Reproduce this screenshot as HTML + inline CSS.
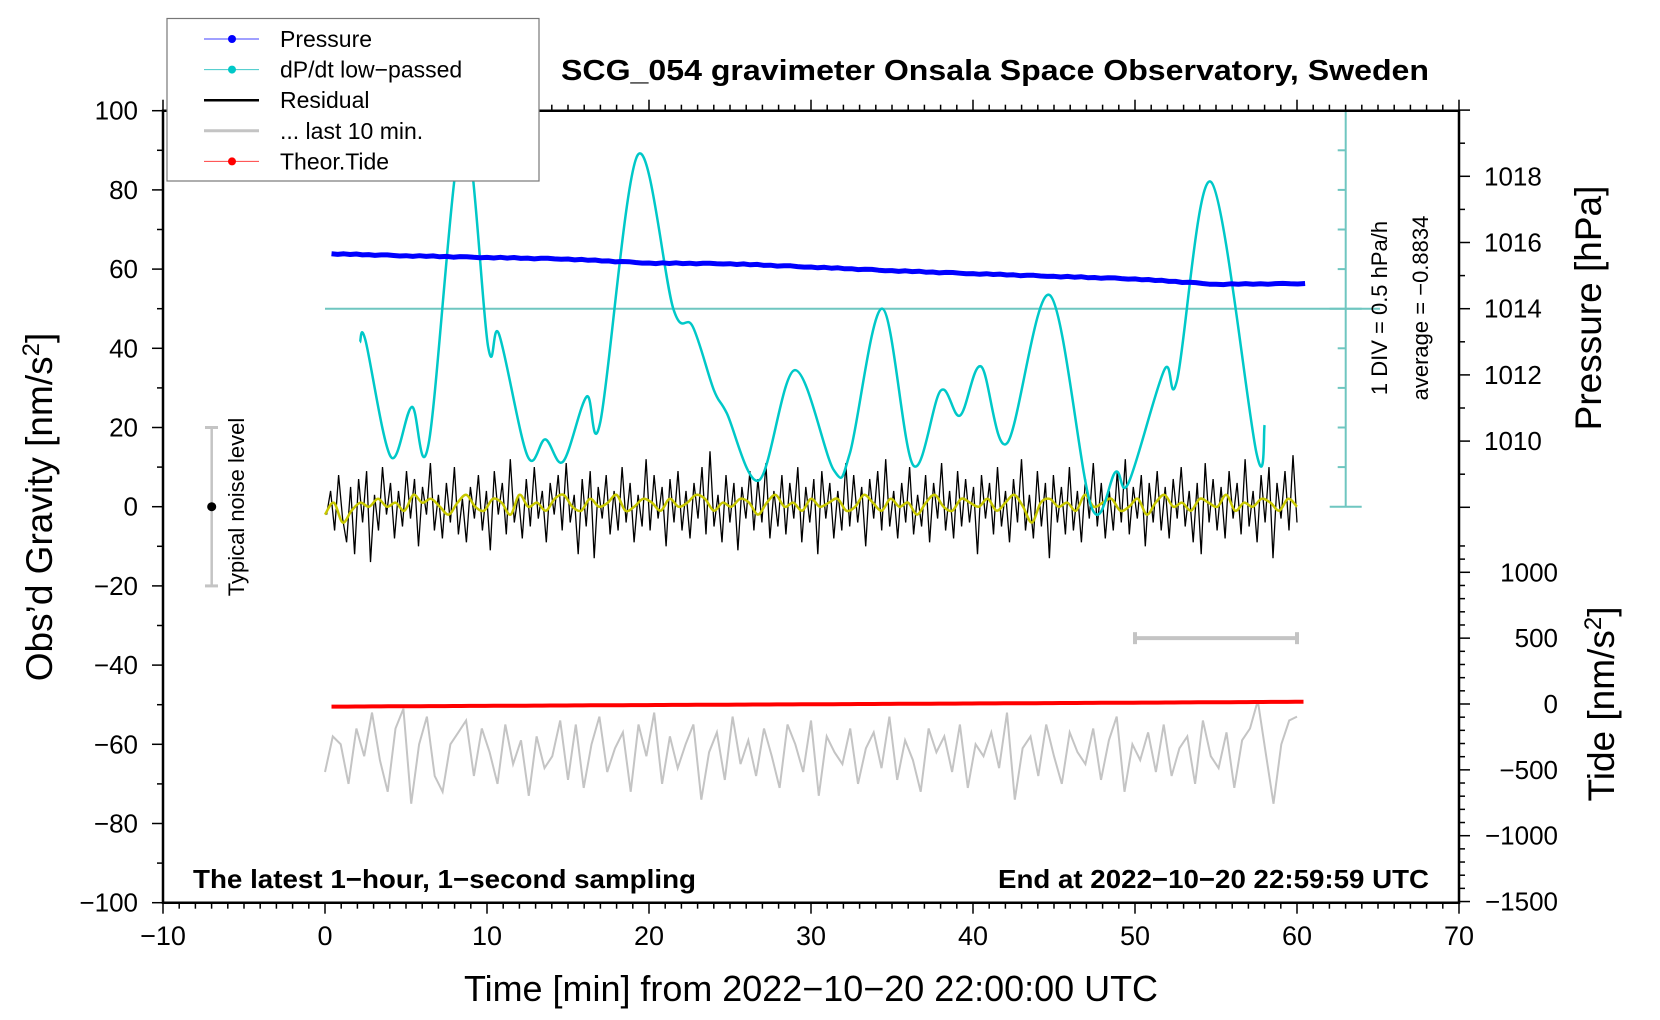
<!DOCTYPE html>
<html><head><meta charset="utf-8"><title>SCG_054 gravimeter</title>
<style>html,body{margin:0;padding:0;background:#fff}svg{display:block}text{font-family:"Liberation Sans",sans-serif}</style>
</head><body>
<svg id="chart" width="1660" height="1020" viewBox="0 0 1660 1020" xmlns="http://www.w3.org/2000/svg"></svg>
<script>
// ---- data ----
const xTicks=[-10,0,10,20,30,40,50,60,70];
const yTicks=[100,80,60,40,20,0,-20,-40,-60,-80,-100];
const pTicks=[1018,1016,1014,1012,1010];
const tideTicks=[1000,500,0,-500,-1000,-1500];
const pressTime=[0.4,5,10,15,20,25,30,35,40,45,50,55,60.5];
const pressVal=[1015.66,1015.6,1015.55,1015.5,1015.38,1015.36,1015.26,1015.15,1015.06,1014.98,1014.9,1014.74,1014.76];
const dpdtTime=[2.16,2.5,4.06,5.36,6.4,8.5,10.07,10.75,12.5,13.6,14.7,16.15,17.0,19.3,21.5,22.7,24.0,24.8,26.8,29.0,31.4,32.4,34.4,36.3,38.0,39.2,40.5,42.1,44.75,47.3,48.8,49.6,51.8,52.6,54.7,57.5,58.0];
const dpdtVal=[41.5,42,12.6,25.2,16,95,40.4,43.5,12.8,17,11.4,27.8,21.5,88.8,50,45.5,29.5,23.6,6.7,34.5,9.3,13.5,50,10.5,29.3,23,35.4,16,53.4,0,8.8,6,34.5,32,82,13.5,20.6];
const residVal=[-2,4,-6,8,-3,-9,5,-12,7,-4,9,-14,3,-6,10,-2,6,-8,4,-5,9,-3,7,-10,5,-2,11,-6,3,-8,6,-4,10,-7,2,-9,5,-3,8,-6,4,-11,9,-2,6,-7,12,-4,3,-8,7,-5,10,-3,4,-9,6,-2,8,-6,11,-4,3,-12,7,-5,9,-13,5,-3,8,-7,4,-6,10,-4,6,-9,3,-5,12,-6,8,-3,5,-10,7,-4,9,-6,4,-8,6,-3,10,-7,14,-5,3,-9,8,-4,6,-11,5,-3,9,-6,7,-4,11,-8,4,-5,8,-7,6,-3,10,-9,5,-4,7,-12,9,-3,6,-8,4,-6,11,-5,8,-4,5,-10,7,-3,9,-6,12,-5,4,-8,6,-4,10,-7,3,-5,8,-9,6,-3,11,-6,4,-8,9,-5,7,-4,5,-12,8,-3,6,-7,10,-5,4,-9,7,-4,12,-6,3,-8,9,-5,6,-13,8,-4,5,-7,10,-6,4,-9,7,-3,11,-5,6,-8,4,-6,9,-4,12,-7,5,-3,8,-10,6,-4,9,-6,5,-8,7,-3,10,-5,4,-9,6,-12,11,-4,7,-6,5,-8,9,-3,6,-7,12,-5,4,-9,8,-4,10,-13,6,-3,9,-6,13,-4];
const smoothVal=[-2,1,-4,-1,1,0,2,0,1,-1,3,1,2,0,-2,1,3,0,-1,2,1,-2,3,0,1,-1,2,3,0,-1,2,0,1,3,-1,0,2,1,-1,2,0,1,3,2,-1,1,0,2,1,-2,1,3,0,1,-1,2,0,1,2,-1,0,3,1,-1,2,0,1,-2,1,3,0,-1,2,1,0,2,-1,1,3,0,-4,1,2,0,1,-1,3,0,1,2,-1,0,2,-2,1,3,0,1,-1,2,1,0,3,-1,1,0,2,1,-1,2,0];
const lastVal=[-67,-58,-60,-70,-56,-63,-52,-64,-72,-56,-51,-75,-60,-53,-68,-72,-60,-57,-54,-68,-56,-62,-70,-55,-65,-59,-73,-58,-66,-63,-54,-69,-55,-71,-60,-53,-67,-61,-57,-72,-55,-63,-52,-70,-58,-66,-60,-55,-74,-62,-57,-69,-53,-65,-59,-68,-56,-63,-71,-55,-60,-67,-54,-73,-58,-62,-65,-56,-70,-61,-57,-66,-53,-69,-59,-64,-72,-56,-62,-58,-67,-55,-71,-60,-63,-57,-66,-52,-74,-61,-58,-68,-55,-63,-70,-57,-62,-65,-56,-69,-59,-53,-72,-60,-64,-57,-67,-55,-68,-61,-58,-70,-54,-63,-66,-57,-71,-59,-56,-49,-62,-75,-60,-54,-53];
const tideTime=[0.4,10,20,30,40,50,60.5];
const tideVal=[-20,-14,-8,-2,4,10,17];

// ---- scales ----
const X=t=>325+t*16.2;
const Y=g=>506.7-g*3.96;
const P=h=>308.7-(h-1014)*33.1;
const T=n=>704-n*0.1317;
const svg=document.getElementById('chart');
const NS='http://www.w3.org/2000/svg';
function mk(tag,attrs,parent){const e=document.createElementNS(NS,tag);for(const k in attrs)e.setAttribute(k,attrs[k]);(parent||svg).appendChild(e);return e;}
function txt(s,attrs,parent){const e=mk('text',attrs,parent);e.textContent=s;return e;}
function pathFrom(xs,ys){return xs.map((x,i)=>(i?'L':'M')+x.toFixed(1)+' '+ys[i].toFixed(1)).join(' ');}
function spline(xs,ys){let d='M'+xs[0]+' '+ys[0];for(let i=0;i<xs.length-1;i++){const x0=xs[Math.max(0,i-1)],y0=ys[Math.max(0,i-1)],x1=xs[i],y1=ys[i],x2=xs[i+1],y2=ys[i+1],x3=xs[Math.min(xs.length-1,i+2)],y3=ys[Math.min(xs.length-1,i+2)];d+=` C${(x1+(x2-x0)/6).toFixed(1)} ${(y1+(y2-y0)/6).toFixed(1)} ${(x2-(x3-x1)/6).toFixed(1)} ${(y2-(y3-y1)/6).toFixed(1)} ${x2.toFixed(1)} ${y2.toFixed(1)}`;}return d;}
function interp(ts,vs,t){for(let i=0;i<ts.length-1;i++){if(t<=ts[i+1]){const f=(t-ts[i])/(ts[i+1]-ts[i]);return vs[i]+f*(vs[i+1]-vs[i]);}}return vs[vs.length-1];}

const L=X(-10),R=X(70),TOP=Y(100),BOT=Y(-100);

let xs=lastVal.map((v,i)=>X(i*60/(lastVal.length-1))),ys=lastVal.map(v=>Y(v));
let e=mk('path',{d:pathFrom(xs,ys),fill:'none',stroke:'#c4c4c4','stroke-width':2});


const tt=[];for(let t=0.4;t<=60.5;t+=0.5)tt.push(t);
e=mk('path',{d:pathFrom(tt.map(X),tt.map(t=>T(interp(tideTime,tideVal,t)))),fill:'none',stroke:'#ff0000','stroke-width':4});


e=mk('g',{stroke:'#c4c4c4','stroke-width':4});

mk('line',{x1:X(50),x2:X(60),y1:T(500),y2:T(500)},e);mk('line',{x1:X(50),x2:X(50),y1:T(500)-6,y2:T(500)+6},e);mk('line',{x1:X(60),x2:X(60),y1:T(500)-6,y2:T(500)+6},e);

xs=residVal.map((v,i)=>X(0.1+i*59.9/(residVal.length-1)));ys=residVal.map(v=>Y(v));
e=mk('path',{d:pathFrom(xs,ys),fill:'none',stroke:'#000','stroke-width':1.3});

xs=smoothVal.map((v,i)=>X(i*60/(smoothVal.length-1)));ys=smoothVal.map(v=>Y(v));
e=mk('path',{d:spline(xs,ys),fill:'none',stroke:'#c8c800','stroke-width':2.5});


e=mk('line',{x1:X(0),x2:1380,y1:P(1014),y2:P(1014),stroke:'#6fc6c0','stroke-width':2});

e=mk('g',{stroke:'#6fc6c0','stroke-width':2});

mk('line',{x1:1345.7,x2:1345.7,y1:TOP,y2:Y(0)},e);
for(let g=0;g<=100;g+=10){const big=(g===0||g===100||g===50);mk('line',{x1:1345.7-(big?16:8),x2:big?1345.7+16:1345.7,y1:Y(g),y2:Y(g)},e);}
e=mk('path',{d:spline(dpdtTime.map(X),dpdtVal.map(Y)),fill:'none',stroke:'#00c8c8','stroke-width':2.5});


const pt=[],pv=[];const jit=[0,-0.015,0.01,-0.008,0.012,-0.01,0.004,-0.015,0.006,0.01,-0.004,-0.012,0.006];
for(let i=0;i<pressTime.length-1;i++){for(let k=0;k<12;k++){const t=pressTime[i]+(pressTime[i+1]-pressTime[i])*k/12;pt.push(t);pv.push(interp(pressTime,pressVal,t)+jit[k]);}}
pt.push(pressTime[pressTime.length-1]);pv.push(pressVal[pressVal.length-1]);
e=mk('path',{d:pathFrom(pt.map(X),pv.map(P)),fill:'none',stroke:'#0000ff','stroke-width':5,'stroke-linejoin':'round'});


e=mk('path',{d:`M${L} ${TOP} H${R} V${BOT} H${L} Z`,fill:'none',stroke:'#000','stroke-width':2.5});


const ax=mk('g',{stroke:'#000','stroke-width':1.5});

for(let t=-10;t<=70;t++){const len=t%10===0?11:6;mk('line',{x1:X(t),x2:X(t),y1:BOT,y2:BOT+len},ax);mk('line',{x1:X(t),x2:X(t),y1:TOP,y2:TOP-len},ax);}
for(let g=-100;g<=100;g+=10){const len=g%20===0?11:6;mk('line',{x1:L,x2:L-len,y1:Y(g),y2:Y(g)},ax);}
for(let h=1008;h<=1020;h++){const len=h%2===0?11:6;mk('line',{x1:R,x2:R+len,y1:P(h),y2:P(h)},ax);}
for(let n=-1500;n<=1200;n+=100){const len=n%500===0?11:6;mk('line',{x1:R,x2:R+len,y1:T(n),y2:T(n)},ax);}

xTicks.forEach(t=>{const el=txt(String(t).replace('-','\u2212'),{x:X(t),y:945,'font-size':27,'text-anchor':'middle'});});
yTicks.forEach(g=>{const el=txt(String(g).replace('-','\u2212'),{x:138,y:Y(g)+9,'font-size':26,'text-anchor':'end'});});
pTicks.forEach(h=>{const el=txt(String(h),{x:1484,y:P(h)+9,'font-size':26});});
tideTicks.forEach(n=>{const el=txt(String(n).replace('-','\u2212'),{x:1558,y:T(n)+9,'font-size':26,'text-anchor':'end'});});

e=mk('g',{});
mk('line',{x1:211.7,x2:211.7,y1:Y(20),y2:Y(-20),stroke:'#c4c4c4','stroke-width':2.5},e);
mk('line',{x1:205,x2:218,y1:Y(20),y2:Y(20),stroke:'#c4c4c4','stroke-width':3},e);
mk('line',{x1:205,x2:218,y1:Y(-20),y2:Y(-20),stroke:'#c4c4c4','stroke-width':3},e);
mk('circle',{cx:211.7,cy:Y(0),r:4.5,fill:'#000'},e);
</script>
<script>
(function(){
const svg=document.getElementById('chart');const NS='http://www.w3.org/2000/svg';
function t(s,a,name){const e=document.createElementNS(NS,'text');for(const k in a)e.setAttribute(k,a[k]);e.textContent=s;


svg.appendChild(e);return e;}
t('Typical noise level',{x:0,y:0,'font-size':22,'text-anchor':'middle',transform:'translate(244,507) rotate(-90)'},'noise-level-label');
t('1 DIV = 0.5 hPa/h',{x:0,y:0,'font-size':22,'text-anchor':'middle',transform:'translate(1387,308) rotate(-90)'},'dpdt-scale-label');
t('average = \u22120.8834',{x:0,y:0,'font-size':22,'text-anchor':'middle',transform:'translate(1428,308) rotate(-90)'},'dpdt-average-label');
t('SCG_054 gravimeter Onsala Space Observatory, Sweden',{x:561,y:80,'font-size':29,'font-weight':'bold',textLength:868,lengthAdjust:'spacingAndGlyphs'},'chart-title');
t('The latest 1\u2212hour, 1\u2212second sampling',{x:193,y:888,'font-size':26,'font-weight':'bold',textLength:503,lengthAdjust:'spacingAndGlyphs'},'sampling-note');
t('End at 2022\u221210\u221220 22:59:59 UTC',{x:998,y:888,'font-size':26,'font-weight':'bold',textLength:431,lengthAdjust:'spacingAndGlyphs'},'end-time-note');
t('Time [min] from 2022\u221210\u221220 22:00:00 UTC',{x:464,y:1001,'font-size':36,textLength:694,lengthAdjust:'spacingAndGlyphs'},'x-axis-title');
const y=t('',{x:0,y:0,'font-size':37,'text-anchor':'middle',transform:'translate(52,507) rotate(-90)'},'y-axis-title');
y.innerHTML='Obs\u2019d Gravity [nm/s<tspan dy="-13" font-size="24">2</tspan><tspan dy="13">]</tspan>';
t('Pressure [hPa]',{x:0,y:0,'font-size':37,'text-anchor':'middle',transform:'translate(1601,308) rotate(-90)'},'pressure-axis-title');
const td=t('',{x:0,y:0,'font-size':37,'text-anchor':'middle',transform:'translate(1614,704) rotate(-90)'},'tide-axis-title');
td.innerHTML='Tide [nm/s<tspan dy="-13" font-size="24">2</tspan><tspan dy="13">]</tspan>';
const g=document.createElementNS(NS,'g');


svg.appendChild(g);
const r=document.createElementNS(NS,'rect');r.setAttribute('x',167);r.setAttribute('y',18.5);r.setAttribute('width',372);r.setAttribute('height',162.5);r.setAttribute('fill','#fff');r.setAttribute('stroke','#777');r.setAttribute('stroke-width',1.2);g.appendChild(r);
const items=[['Pressure','#4040ff',1,true],['dP/dt low\u2212passed','#40c8c8',1,true],['Residual','#000',2.5,false],['... last 10 min.','#c4c4c4',3,false],['Theor.Tide','#ff4040',1,true]];
items.forEach((it,i)=>{const yy=39+i*30.6;
const l=document.createElementNS(NS,'line');l.setAttribute('x1',204);l.setAttribute('x2',259);l.setAttribute('y1',yy);l.setAttribute('y2',yy);l.setAttribute('stroke',it[1]);l.setAttribute('stroke-width',it[2]);g.appendChild(l);
if(it[3]){const c=document.createElementNS(NS,'circle');c.setAttribute('cx',232);c.setAttribute('cy',yy);c.setAttribute('r',4);c.setAttribute('fill',it[1]==='#4040ff'?'#0000ff':it[1]==='#ff4040'?'#ff0000':'#00c8c8');g.appendChild(c);}
const tx=document.createElementNS(NS,'text');tx.setAttribute('x',280);tx.setAttribute('y',yy+8);tx.setAttribute('font-size',23);tx.textContent=it[0];


g.appendChild(tx);});
})();
</script>
</body></html>
